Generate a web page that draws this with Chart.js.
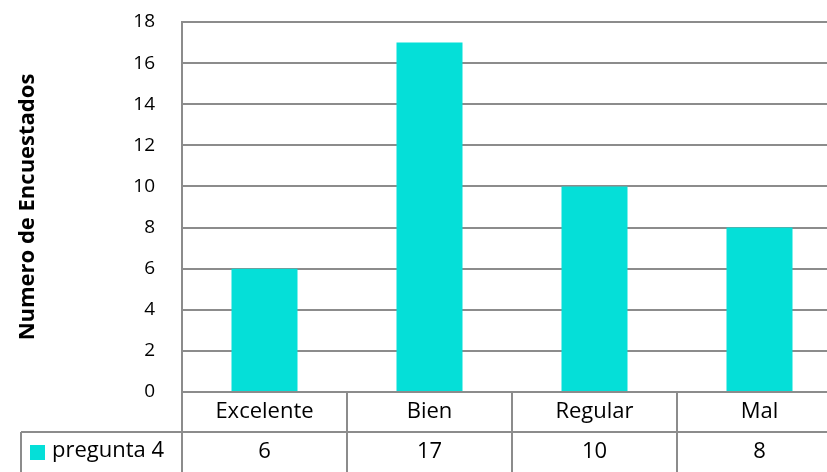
<!DOCTYPE html>
<html>
<head>
<meta charset="utf-8">
<script src="https://cdn.jsdelivr.net/npm/chart.js@4"></script>
<style>
  html, body { margin: 0; padding: 0; background: #fff; }
  #wrap { width: 827px; height: 472px; overflow: hidden; position: relative; }
  #box { width: 844px; height: 472px; position: absolute; left: 0; top: 0; }
</style>
</head>
<body>
<div id="wrap"><div id="box"><canvas id="c"></canvas></div></div>
<script>
// Survey answers for question 4
const categories = ['Excelente', 'Bien', 'Regular', 'Mal'];
const seriesName = 'pregunta 4';
const respondents = [6, 17, 10, 8];
const yTitle = 'Numero de Encuestados';

const FONT = '"Open Sans", Lato, sans-serif';
const GRID = '#8c8c8c';
const BAR = '#05dfd8';

// Data table under the plot: category row, then series row with legend key
const dataTable = {
  id: 'dataTable',
  afterDraw(chart) {
    const ctx = chart.ctx;
    const x = chart.scales.x;
    const area = chart.chartArea;
    const step = x.getPixelForValue(1) - x.getPixelForValue(0);
    const rowTop = area.bottom;
    const rowMid = rowTop + 40;
    const rowEnd = chart.height + 2;
    const keyLeft = 21;

    ctx.save();
    ctx.strokeStyle = GRID;
    ctx.lineWidth = 2;
    ctx.beginPath();
    // horizontal line between the two rows
    ctx.moveTo(keyLeft, rowMid);
    ctx.lineTo(x.getPixelForValue(categories.length - 1) + step / 2, rowMid);
    // legend cell left edge
    ctx.moveTo(keyLeft, rowMid);
    ctx.lineTo(keyLeft, rowEnd);
    // column separators
    for (let i = 0; i <= categories.length; i++) {
      const bx = x.getPixelForValue(i) - step / 2;
      ctx.moveTo(bx, rowTop);
      ctx.lineTo(bx, rowEnd);
    }
    ctx.stroke();

    ctx.fillStyle = '#000';
    ctx.font = '22px ' + FONT;
    ctx.textAlign = 'center';
    ctx.textBaseline = 'middle';
    categories.forEach((c, i) => {
      const cx = x.getPixelForValue(i);
      ctx.fillText(c, cx, rowTop + 20);
      ctx.fillText(String(chart.data.datasets[0].data[i]), cx, rowMid + 20);
    });

    // legend key and series name
    ctx.fillStyle = BAR;
    ctx.fillRect(30, rowMid + 13, 15, 15);
    ctx.fillStyle = '#000';
    ctx.textAlign = 'left';
    ctx.fillText(seriesName, 52, rowMid + 19);
    ctx.restore();
  }
};

new Chart(document.getElementById('c'), {
  type: 'bar',
  data: {
    labels: categories,
    datasets: [{
      label: seriesName,
      data: respondents,
      backgroundColor: BAR,
      borderWidth: 0,
      categoryPercentage: 1,
      barPercentage: 0.4
    }]
  },
  options: {
    responsive: true,
    maintainAspectRatio: false,
    animation: false,
    layout: { padding: { top: 22, right: 2, left: 0, bottom: 0 } },
    plugins: {
      legend: { display: false },
      tooltip: { enabled: false }
    },
    scales: {
      x: {
        grid: { display: false, drawTicks: false },
        border: { display: true, color: GRID, width: 2 },
        ticks: { display: false },
        afterFit(s) { s.height = 80; }
      },
      y: {
        min: 0,
        max: 18,
        ticks: {
          stepSize: 2,
          padding: 0,
          color: '#000',
          font: { family: FONT, size: 19 }
        },
        // invisible tick marks keep the labels clear of the axis line
        grid: { color: GRID, lineWidth: 2, drawTicks: true, tickLength: 27, tickColor: 'rgba(0,0,0,0)' },
        border: { display: true, color: GRID, width: 2 },
        title: {
          display: true,
          text: yTitle,
          color: '#000',
          font: { family: FONT, size: 22, weight: 'bold' },
          padding: { top: 15, bottom: 0 }
        },
        afterFit(s) { s.width = 182; }
      }
    }
  },
  plugins: [dataTable]
});
</script>
</body>
</html>
